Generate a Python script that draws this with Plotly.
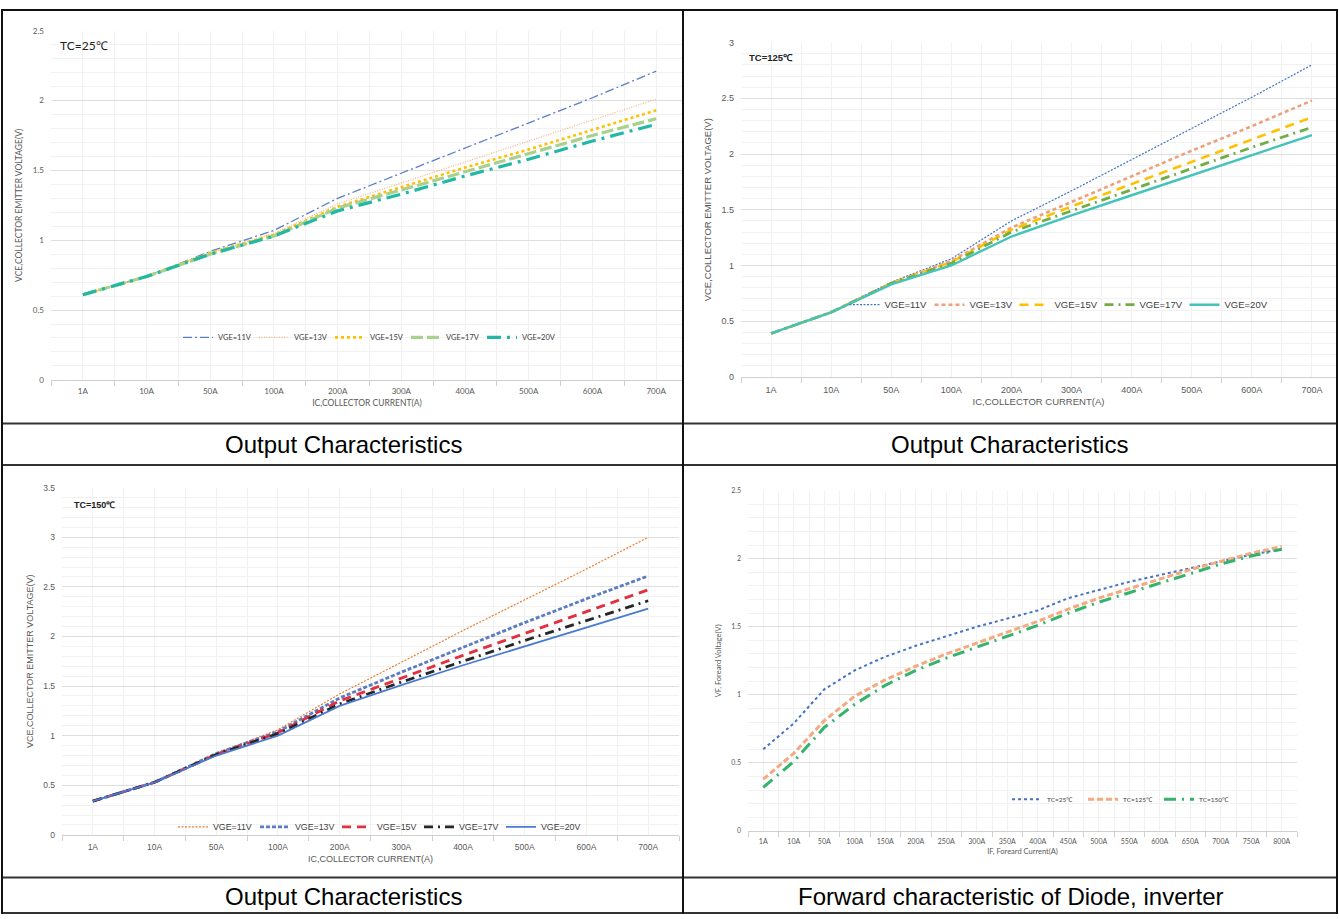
import plotly.graph_objects as go

W, H = 1339, 919

# ---------------- data ----------------
ic_cats = ["1A", "10A", "50A", "100A", "200A", "300A", "400A", "500A", "600A", "700A"]
if_cats = ["1A", "10A", "50A", "100A", "150A", "200A", "250A", "300A", "350A",
           "400A", "450A", "500A", "550A", "600A", "650A", "700A", "750A", "800A"]
vge_names = ["VGE=11V", "VGE=13V", "VGE=15V", "VGE=17V", "VGE=20V"]
tc_names = ["TC=25℃", "TC=125℃", "TC=150℃"]

# Output characteristics, TC=25℃ (VCE in V)
vce25_vge11 = [0.61, 0.74, 0.92, 1.07, 1.30, 1.48, 1.66, 1.84, 2.02, 2.21]
vce25_vge13 = [0.61, 0.74, 0.91, 1.05, 1.26, 1.41, 1.56, 1.71, 1.86, 2.01]
vce25_vge15 = [0.61, 0.74, 0.91, 1.04, 1.24, 1.38, 1.52, 1.65, 1.79, 1.93]
vce25_vge17 = [0.61, 0.74, 0.90, 1.03, 1.23, 1.36, 1.49, 1.62, 1.75, 1.87]
vce25_vge20 = [0.61, 0.74, 0.90, 1.03, 1.21, 1.33, 1.46, 1.58, 1.71, 1.83]

# Output characteristics, TC=125℃
vce125_vge11 = [0.39, 0.58, 0.85, 1.06, 1.40, 1.67, 1.95, 2.23, 2.51, 2.80]
vce125_vge13 = [0.39, 0.58, 0.84, 1.04, 1.34, 1.57, 1.80, 2.03, 2.25, 2.48]
vce125_vge15 = [0.39, 0.58, 0.84, 1.03, 1.32, 1.53, 1.73, 1.93, 2.13, 2.33]
vce125_vge17 = [0.39, 0.58, 0.84, 1.02, 1.30, 1.49, 1.68, 1.87, 2.06, 2.24]
vce125_vge20 = [0.39, 0.58, 0.83, 1.00, 1.26, 1.45, 1.63, 1.81, 1.99, 2.17]

# Output characteristics, TC=150℃
vce150_vge11 = [0.34, 0.53, 0.82, 1.06, 1.42, 1.74, 2.06, 2.37, 2.68, 3.00]
vce150_vge13 = [0.34, 0.53, 0.82, 1.04, 1.38, 1.64, 1.89, 2.14, 2.38, 2.61]
vce150_vge15 = [0.34, 0.53, 0.81, 1.03, 1.35, 1.58, 1.81, 2.03, 2.25, 2.47]
vce150_vge17 = [0.34, 0.53, 0.81, 1.02, 1.32, 1.54, 1.75, 1.96, 2.16, 2.36]
vce150_vge20 = [0.34, 0.53, 0.80, 1.00, 1.30, 1.51, 1.71, 1.90, 2.09, 2.28]

# Diode forward characteristic (VF in V)
vf_tc25 = [0.60, 0.79, 1.04, 1.18, 1.28, 1.36, 1.43, 1.50, 1.56, 1.62,
           1.71, 1.77, 1.83, 1.88, 1.93, 1.98, 2.03, 2.07]
vf_tc125 = [0.38, 0.57, 0.81, 0.99, 1.11, 1.21, 1.30, 1.38, 1.46, 1.54,
            1.63, 1.71, 1.78, 1.85, 1.92, 1.98, 2.04, 2.09]
vf_tc150 = [0.32, 0.51, 0.76, 0.93, 1.07, 1.18, 1.27, 1.35, 1.43, 1.51,
            1.60, 1.68, 1.75, 1.82, 1.89, 1.96, 2.02, 2.07]

# ---------------- layout helpers ----------------
def xdom(l, r):
    return [l / W, r / W]


def ydom(t, b):
    return [1 - b / H, 1 - t / H]


GRID = "#dedede"
MINOR = "#f1f1f1"
TICKC = "#595959"

fig = go.Figure()

# panel boxes in pixels: left, right, top, bottom, category width
panels = {
    1: dict(l=51, r=683, t=26, b=379, cw=63.7, n=len(ic_cats), cats=ic_cats, ymax=2.5),
    2: dict(l=741, r=1336, t=38, b=376, cw=60.1, n=len(ic_cats), cats=ic_cats, ymax=3.0),
    3: dict(l=62, r=679, t=488, b=839, cw=61.7, n=len(ic_cats), cats=ic_cats, ymax=3.5),
    4: dict(l=748, r=1297, t=491, b=835, cw=30.5, n=len(if_cats), cats=if_cats, ymax=2.5),
}

panel_fonts = {
    1: dict(family="Lato, sans-serif", tick=8, title=8.5),
    2: dict(family="Liberation Sans, Arial, sans-serif", tick=9, title=9.5),
    3: dict(family="Liberation Sans, Arial, sans-serif", tick=8.5, title=9),
    4: dict(family="Lato, sans-serif", tick=7, title=7.5),
}

x_titles = {1: "IC,COLLECTOR CURRENT(A)", 2: "IC,COLLECTOR CURRENT(A)",
            3: "IC,COLLECTOR CURRENT(A)", 4: "IF, Foreard Current(A)"}
y_titles = {1: "VCE,COLLECTOR EMITTER VOLTAGE(V)", 2: "VCE,COLLECTOR EMITTER VOLTAGE(V)",
            3: "VCE,COLLECTOR EMITTER VOLTAGE(V)", 4: "VF, Foreard Voltage(V)"}

for k, p in panels.items():
    f = panel_fonts[k]
    xr = -0.5 + (p["r"] - p["l"]) / p["cw"]
    sfx = "" if k == 1 else str(k)
    fig.update_layout(**{
        "xaxis" + sfx: dict(
            domain=xdom(p["l"], p["r"]), anchor="y" + sfx, range=[-0.5, xr],
            tickmode="array", tickvals=list(range(p["n"])), ticktext=p["cats"],
            showgrid=True, gridcolor=MINOR, gridwidth=1,
            ticks="", showline=True, linecolor="#d0d0d0", linewidth=1,
            zeroline=False, fixedrange=True,
            tickfont=dict(family=f["family"], size=f["tick"], color=TICKC),
            ticklabelstandoff=4,
            minor=dict(tickmode="array", tickvals=[i - 0.5 for i in range(p["n"] + 1)],
                       showgrid=True, gridcolor=MINOR, ticks="outside", ticklen=5,
                       tickcolor="#d0d0d0", tickwidth=1),
            title=dict(text=x_titles[k], standoff=4,
                       font=dict(family=f["family"], size=f["title"], color=TICKC)),
        ),
        "yaxis" + sfx: dict(
            domain=ydom(p["t"], p["b"]), anchor="x" + sfx, range=[0, p["ymax"]],
            tickmode="linear", tick0=0, dtick=0.5, showgrid=True, gridcolor=GRID,
            zeroline=False, showline=False, ticks="", fixedrange=True,
            tickfont=dict(family=f["family"], size=f["tick"], color=TICKC),
            ticklabelstandoff=6,
            minor=dict(dtick=0.1, tick0=0, showgrid=True, gridcolor=MINOR),
            title=dict(text=y_titles[k], standoff=8,
                       font=dict(family=f["family"], size=f["title"], color=TICKC)),
        ),
    })

# ---------------- traces ----------------
ic_idx = list(range(len(ic_cats)))
if_idx = list(range(len(if_cats)))

styles_25 = [
    dict(color="#5B7DC8", width=1.3, dash="9px,3px,2px,3px"),
    dict(color="#F4B183", width=1.2, dash="1px,1.5px"),
    dict(color="#FFC000", width=2.6, dash="dot"),
    dict(color="#A9D18E", width=3.2, dash="12px,4px"),
    dict(color="#22B8A6", width=3.2, dash="14px,6px,3px,6px"),
]
styles_125 = [
    dict(color="#4472C4", width=1.2, dash="2px,1.5px"),
    dict(color="#EFA07A", width=2.6, dash="4px,3px"),
    dict(color="#FFC000", width=2.6, dash="9px,6px"),
    dict(color="#70AD47", width=2.8, dash="9px,5px,2px,5px"),
    dict(color="#45C3BB", width=2.4, dash="solid"),
]
styles_150 = [
    dict(color="#ED7D31", width=1.2, dash="2px,1.5px"),
    dict(color="#5B7CC4", width=2.8, dash="4px,2px"),
    dict(color="#E2303F", width=2.8, dash="9px,6px"),
    dict(color="#262626", width=2.8, dash="9px,5px,2px,5px"),
    dict(color="#4A7BD0", width=1.8, dash="solid"),
]
styles_vf = [
    dict(color="#4472C4", width=2.0, dash="dot"),
    dict(color="#F4A97E", width=3.0, dash="6px,3px"),
    dict(color="#33B36B", width=3.0, dash="12px,6px,2px,6px"),
]

groups = [
    (1, ic_idx, [vce25_vge11, vce25_vge13, vce25_vge15, vce25_vge17, vce25_vge20], vge_names, styles_25),
    (2, ic_idx, [vce125_vge11, vce125_vge13, vce125_vge15, vce125_vge17, vce125_vge20], vge_names, styles_125),
    (3, ic_idx, [vce150_vge11, vce150_vge13, vce150_vge15, vce150_vge17, vce150_vge20], vge_names, styles_150),
    (4, if_idx, [vf_tc25, vf_tc125, vf_tc150], tc_names, styles_vf),
]

for k, xs, series, names, styles in groups:
    sfx = "" if k == 1 else str(k)
    leg = "legend" if k == 1 else "legend" + str(k)
    for ys, name, st in zip(series, names, styles):
        fig.add_trace(go.Scatter(
            x=xs, y=ys, name=name, mode="lines", line=st,
            xaxis="x" + sfx, yaxis="y" + sfx, legend=leg, hoverinfo="x+y+name",
        ))

# ---------------- legends ----------------
legend_specs = {
    1: dict(cx=368, cy=336, ew=31, fs=7.5),
    2: dict(cx=1057, cy=303, ew=40, fs=9.5),
    3: dict(cx=378, cy=831, ew=37, fs=8.8),
    4: dict(cx=1121, cy=803, ew=31, fs=6.5),
}
for k, s in legend_specs.items():
    key = "legend" if k == 1 else "legend" + str(k)
    fig.update_layout(**{key: dict(
        orientation="h", x=s["cx"] / W, y=1 - s["cy"] / H,
        xanchor="center", yanchor="middle", bgcolor="rgba(0,0,0,0)",
        entrywidth=s["ew"], entrywidthmode="pixels", itemwidth=30,
        font=dict(family=panel_fonts[k]["family"], size=s["fs"], color="#404040"),
        tracegroupgap=0, itemclick=False, itemdoubleclick=False,
    )})

# ---------------- in-plot labels and captions ----------------
annotations = [
    dict(text="TC=25℃", x=58 / W, y=1 - 41 / H, font=dict(family="Lato, sans-serif", size=12, color="#222")),
    dict(text="<b>TC=125℃</b>", x=747 / W, y=1 - 53 / H,
         font=dict(family="Liberation Sans, Arial, sans-serif", size=9.5, color="#222")),
    dict(text="<b>TC=150℃</b>", x=72 / W, y=1 - 505 / H,
         font=dict(family="Liberation Sans, Arial, sans-serif", size=9, color="#222")),
]
for a in annotations:
    a.update(xref="paper", yref="paper", xanchor="left", yanchor="middle", showarrow=False)

captions = [
    ("Output Characteristics", 343, 444),
    ("Output Characteristics", 1009, 444),
    ("Output Characteristics", 343, 901),
    ("Forward characteristic of Diode, inverter", 1011, 901),
]
for text, cx, cy in captions:
    annotations.append(dict(
        text=text, x=cx / W, y=1 - cy / H, xref="paper", yref="paper",
        xanchor="center", yanchor="middle", showarrow=False,
        font=dict(family="Liberation Sans, Arial, sans-serif", size=24, color="#000"),
    ))
fig.update_layout(annotations=annotations)

# ---------------- table frame ----------------
def hline(y, x0=2, x1=1337, w=2, c="#333333"):
    return dict(type="line", xref="paper", yref="paper", x0=x0 / W, x1=x1 / W,
                y0=1 - y / H, y1=1 - y / H, line=dict(color=c, width=w), layer="above")


def vline(x, y0=4, y1=919, w=2, c="#111111"):
    return dict(type="line", xref="paper", yref="paper", x0=x / W, x1=x / W,
                y0=1 - y0 / H, y1=1 - y1 / H, line=dict(color=c, width=w), layer="above")


shapes = [
    hline(5, c="#111111"), hline(423), hline(465), hline(882), hline(918),
    vline(2), vline(683), vline(1337),
]
fig.update_layout(shapes=shapes)

fig.update_layout(
    width=W, height=H, margin=dict(l=0, r=0, t=0, b=0),
    paper_bgcolor="white", plot_bgcolor="white", showlegend=True,
    font=dict(family="Liberation Sans, Arial, sans-serif"),
)

fig.write_html("out.html", config={"displayModeBar": False})
